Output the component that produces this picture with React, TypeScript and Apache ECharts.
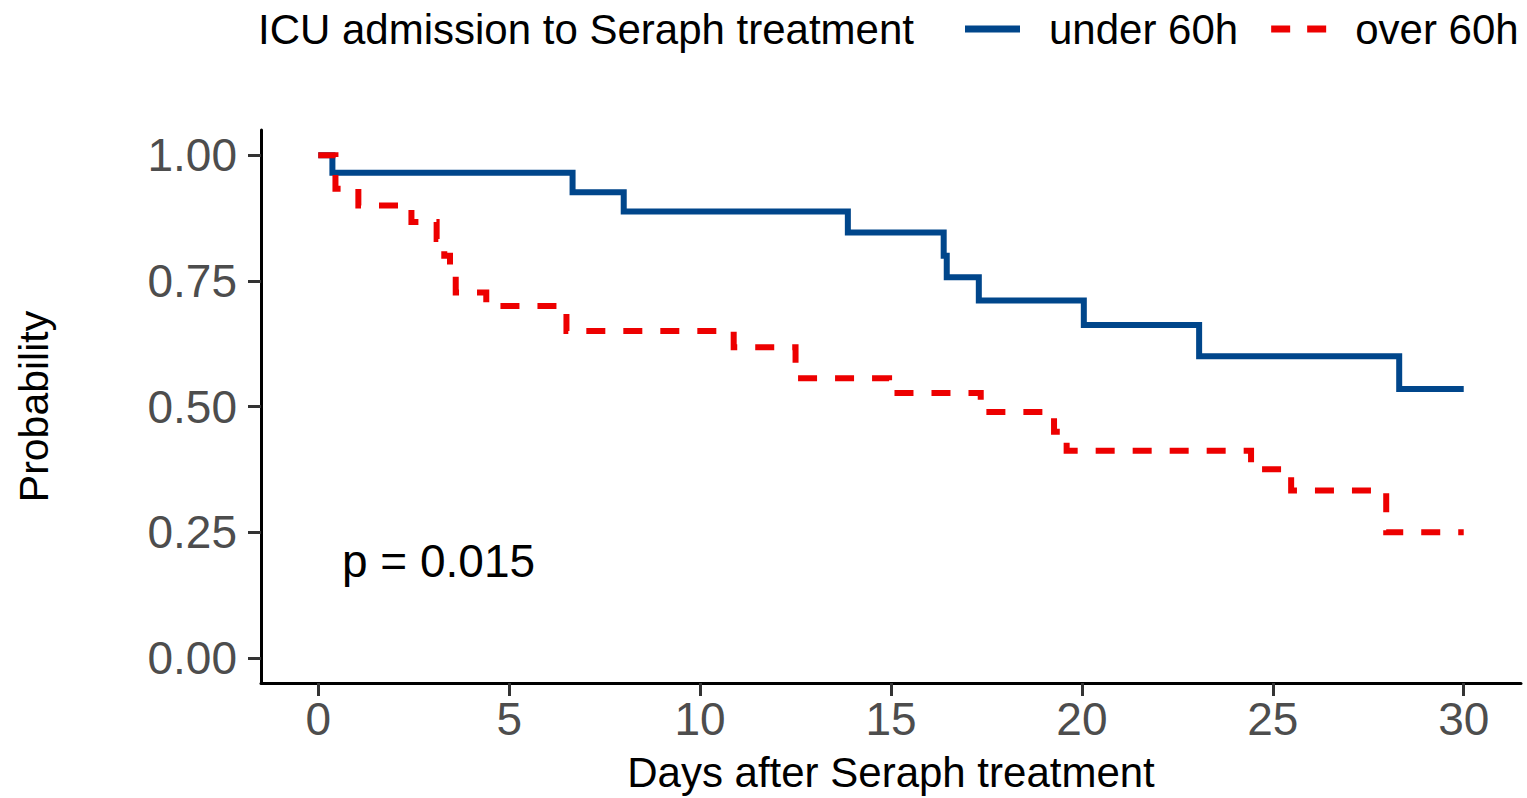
import React, { useEffect, useRef } from "react";
import * as echarts from "echarts";

// Kaplan–Meier estimates: event times (days) and survival probability after each step
const underTimes = [0, 0.37, 6.66, 8.0, 13.87, 16.38, 16.46, 17.3, 20.05, 23.07, 28.31, 30];
const underSurv = [1, 0.965, 0.926, 0.888, 0.846, 0.8, 0.757, 0.711, 0.662, 0.6, 0.535, 0.535];

const overTimes = [0, 0.45, 1.05, 2.44, 3.1, 3.3, 3.45, 3.6, 4.4, 6.5, 10.88, 12.5, 14.95, 17.35, 19.27, 19.6, 24.43, 25.48, 27.97, 30];
const overSurv = [1, 0.933, 0.9, 0.867, 0.833, 0.8, 0.767, 0.727, 0.7, 0.65, 0.618, 0.556, 0.527, 0.489, 0.45, 0.412, 0.375, 0.333, 0.25, 0.25];

const seriesNames = ["under 60h", "over 60h"];
const legendTitle = "ICU admission to Seraph treatment";
const xTicks = [0, 5, 10, 15, 20, 25, 30];
const yTicks = [0, 0.25, 0.5, 0.75, 1];
const xTitle = "Days after Seraph treatment";
const yTitle = "Probability";
const pValueText = "p = 0.015";

const FONT = "'Liberation Sans', Arial, Helvetica, sans-serif";
const BLUE = "#00468B";
const RED = "#ED0000";

// legend keys: a solid stroke and a two-dash stroke
const SOLID_KEY = "path://M0,0H55V7H0Z";
const DASHED_KEY = "path://M0,0H19V7H0Z M36,0H55V7H36Z";

const pairs = (xs: number[], ys: number[]) => xs.map((x, i) => [x, ys[i]]);

export default function App() {
  const ref = useRef<HTMLDivElement>(null);

  useEffect(() => {
    if (!ref.current) return;
    const chart = echarts.init(ref.current, null, { renderer: "svg" });
    chart.setOption({
      animation: false,
      backgroundColor: "#ffffff",
      textStyle: { fontFamily: FONT },
      grid: { left: 261, right: 6, top: 130, bottom: 113, containLabel: false },
      legend: {
        data: [
          { name: seriesNames[0], icon: SOLID_KEY },
          { name: seriesNames[1], icon: DASHED_KEY },
        ],
        left: 960,
        top: 3,
        itemWidth: 55,
        itemHeight: 7,
        itemGap: 33,
        textStyle: { fontSize: 42, color: "#000000", fontFamily: FONT, padding: [0, 0, 0, 24] },
      },
      xAxis: {
        type: "value",
        min: -1.5,
        max: 31.5,
        name: xTitle,
        nameLocation: "middle",
        nameGap: 68,
        nameTextStyle: { fontSize: 42, color: "#000000", fontFamily: FONT },
        axisLine: { show: true, onZero: false, lineStyle: { color: "#000000", width: 3 } },
        axisTick: { show: true, length: 13, customValues: xTicks, lineStyle: { color: "#333333", width: 3 } },
        axisLabel: { customValues: xTicks, fontSize: 46, color: "#4D4D4D", margin: 13, fontFamily: FONT },
        splitLine: { show: false },
      },
      yAxis: {
        type: "value",
        min: -0.05,
        max: 1.05,
        name: yTitle,
        nameLocation: "middle",
        nameRotate: 90,
        nameGap: 207,
        nameTextStyle: { fontSize: 41, color: "#000000", fontFamily: FONT },
        axisLine: { show: true, onZero: false, lineStyle: { color: "#000000", width: 3 } },
        axisTick: { show: true, length: 13, customValues: yTicks, lineStyle: { color: "#333333", width: 3 } },
        axisLabel: {
          customValues: yTicks,
          fontSize: 46,
          color: "#4D4D4D",
          margin: 24,
          fontFamily: FONT,
          formatter: (v: number) => v.toFixed(2),
        },
        splitLine: { show: false },
      },
      graphic: [
        {
          type: "text",
          left: 258,
          top: 8,
          style: { text: legendTitle, fontSize: 42, fill: "#000000", fontFamily: FONT },
        },
        {
          type: "text",
          left: 342,
          top: 538,
          style: { text: pValueText, fontSize: 46, fill: "#000000", fontFamily: FONT },
        },
      ],
      series: [
        {
          name: seriesNames[0],
          type: "line",
          step: "end",
          symbol: "none",
          data: pairs(underTimes, underSurv),
          lineStyle: { color: BLUE, width: 6, cap: "butt", join: "miter" },
          itemStyle: { color: BLUE },
        },
        {
          name: seriesNames[1],
          type: "line",
          step: "end",
          symbol: "none",
          data: pairs(overTimes, overSurv),
          lineStyle: { color: RED, width: 6, type: [19, 18], cap: "butt", join: "miter" },
          itemStyle: { color: RED },
        },
      ],
    });
    return () => chart.dispose();
  }, []);

  return (
    <div
      ref={ref}
      style={{ position: "absolute", left: 0, top: 0, width: 1527, height: 798, background: "#ffffff" }}
    />
  );
}
